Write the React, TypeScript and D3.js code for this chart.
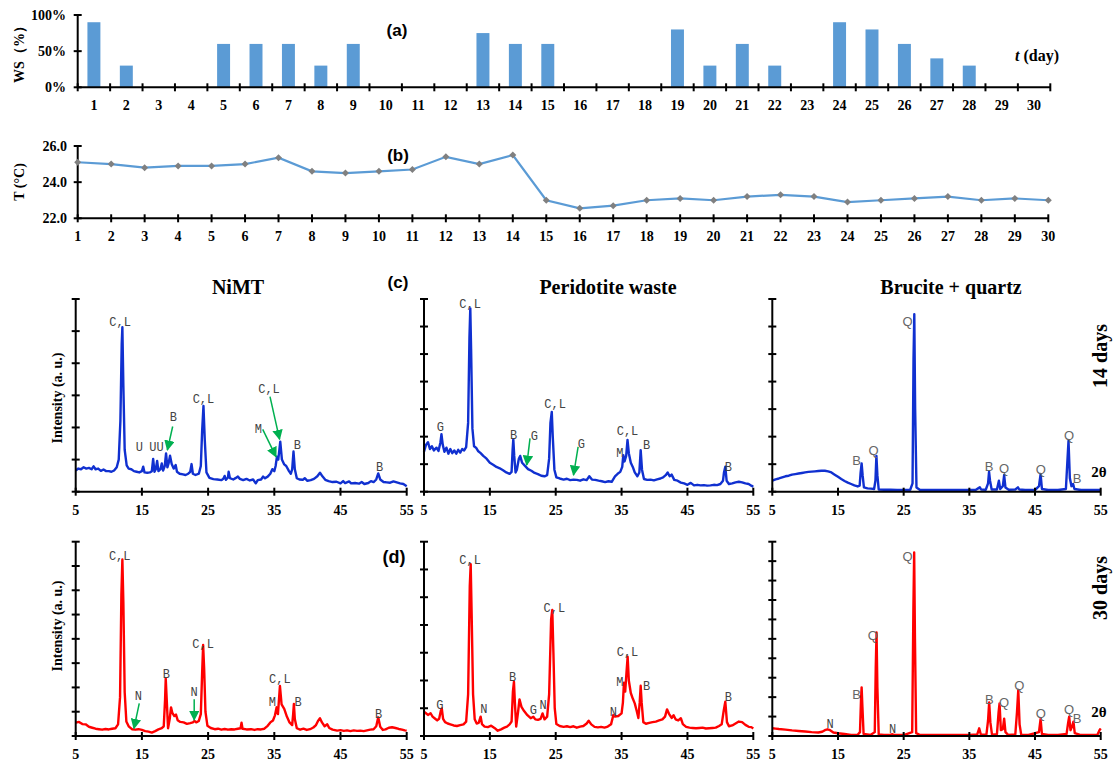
import React from 'react';
import * as d3 from 'd3';

// ---------- (a) water sprinkling and (b) temperature, per day ----------
const DAYS = [1, 2, 3, 4, 5, 6, 7, 8, 9, 10, 11, 12, 13, 14, 15, 16, 17, 18, 19, 20, 21, 22, 23, 24, 25, 26, 27, 28, 29, 30];
const WS_PERCENT = [90, 30, 0, 0, 60, 60, 60, 30, 60, 0, 0, 0, 75, 60, 60, 0, 0, 0, 80, 30, 60, 30, 0, 90, 80, 60, 40, 30, 0, 0];
const TEMP_C = [25.1, 25.0, 24.8, 24.9, 24.9, 25.0, 25.35, 24.6, 24.5, 24.6, 24.7, 25.4, 25.0, 25.5, 23.0, 22.55, 22.7, 23.0, 23.1, 23.0, 23.2, 23.3, 23.2, 22.9, 23.0, 23.1, 23.2, 23.0, 23.1, 23.0];
const WS_TICKS = [0, 0.5, 1];
const TEMP_TICKS = [22, 24, 26];

// ---------- XRD patterns: [2θ (deg), intensity (counts)] ----------
const TWO_THETA_TICKS = [5, 15, 25, 35, 45, 55];

const NIMT_14: [number, number][] = [
  [5.0, 660], [5.4, 720], [5.8, 700], [6.2, 760], [6.6, 720], [7.0, 740], [7.4, 700], [7.7, 790], [8.0, 700], [8.4, 720],
  [8.8, 650], [9.2, 690], [9.6, 640], [10.0, 640], [10.4, 620], [10.8, 660], [11.2, 760], [11.5, 1000], [11.75, 2200], [11.95, 4600],
  [12.05, 5120], [12.2, 3300], [12.4, 1300], [12.7, 820], [13.0, 720], [13.4, 700], [13.8, 640], [14.2, 620], [14.6, 600], [15.0, 640],
  [15.2, 780], [15.4, 600], [15.8, 590], [16.2, 600], [16.5, 640], [16.7, 1020], [16.9, 620], [17.1, 700], [17.3, 960], [17.5, 640],
  [17.8, 700], [18.0, 880], [18.2, 660], [18.45, 800], [18.65, 1190], [18.85, 760], [19.05, 900], [19.25, 1120], [19.5, 860], [19.8, 720],
  [20.1, 830], [20.3, 620], [20.7, 560], [21.2, 540], [21.6, 520], [22.0, 560], [22.3, 620], [22.5, 860], [22.7, 560], [23.1, 520],
  [23.6, 560], [23.9, 800], [24.1, 1900], [24.3, 2670], [24.5, 1600], [24.75, 600], [25.2, 430], [25.8, 390], [26.4, 380], [27.0, 360],
  [27.3, 400], [27.5, 490], [27.7, 370], [28.0, 440], [28.1, 620], [28.3, 420], [28.8, 380], [29.2, 430], [29.5, 470], [29.8, 400],
  [30.3, 360], [30.8, 400], [31.3, 350], [31.8, 380], [32.2, 260], [32.5, 360], [33.0, 380], [33.3, 470], [33.6, 420], [34.0, 470],
  [34.4, 560], [34.7, 700], [35.0, 640], [35.2, 800], [35.4, 1090], [35.6, 1000], [35.9, 1560], [36.15, 1000], [36.5, 850], [36.8, 800],
  [37.2, 650], [37.5, 560], [37.7, 700], [37.9, 1250], [38.1, 700], [38.4, 420], [38.8, 380], [39.3, 370], [39.6, 420], [40.0, 340],
  [40.5, 360], [41.0, 400], [41.5, 480], [41.9, 590], [42.3, 470], [42.7, 370], [43.2, 330], [43.8, 300], [44.4, 310], [45.0, 260],
  [45.4, 330], [45.7, 270], [46.3, 320], [46.6, 260], [47.2, 270], [47.8, 250], [48.2, 300], [48.6, 240], [49.2, 270], [49.6, 330],
  [50.0, 300], [50.4, 380], [50.7, 570], [51.0, 380], [51.5, 300], [52.0, 290], [52.5, 280], [53.0, 320], [53.5, 290], [54.0, 260],
  [54.5, 240], [55.0, 170],
];

const PERIDOTITE_14: [number, number][] = [
  [5.0, 1450], [5.3, 1700], [5.6, 1800], [5.9, 1550], [6.2, 1650], [6.5, 1500], [6.9, 1600], [7.2, 1480], [7.5, 1800], [7.65, 2090],
  [7.85, 1700], [8.1, 1450], [8.4, 1600], [8.7, 1380], [9.0, 1550], [9.3, 1400], [9.6, 1500], [9.9, 1380], [10.2, 1520], [10.5, 1420],
  [10.8, 1550], [11.1, 1500], [11.4, 1620], [11.7, 2500], [11.9, 5600], [12.03, 6660], [12.15, 5200], [12.35, 2300], [12.6, 1650], [12.9, 1600],
  [13.2, 1480], [13.6, 1400], [14.0, 1300], [14.5, 1200], [15.0, 1050], [15.5, 980], [16.0, 900], [16.5, 850], [17.0, 780], [17.5, 700],
  [18.0, 650], [18.3, 720], [18.45, 1500], [18.56, 1900], [18.7, 1300], [18.9, 700], [19.1, 800], [19.4, 1200], [19.6, 1300], [19.9, 1050],
  [20.3, 950], [20.8, 820], [21.3, 760], [21.8, 680], [22.3, 640], [22.8, 580], [23.3, 560], [23.7, 600], [24.0, 1200], [24.2, 2500],
  [24.4, 2900], [24.55, 2000], [24.8, 800], [25.1, 520], [25.6, 480], [26.2, 440], [26.7, 470], [27.2, 420], [27.7, 440], [28.2, 430],
  [28.7, 400], [29.2, 450], [29.7, 420], [30.1, 560], [30.5, 440], [31.0, 430], [31.5, 400], [32.0, 380], [32.5, 350], [33.0, 380],
  [33.5, 360], [34.0, 560], [34.4, 650], [34.8, 720], [35.1, 900], [35.26, 1330], [35.45, 1100], [35.7, 1300], [35.9, 1880], [36.1, 1400],
  [36.4, 1050], [36.7, 900], [37.0, 700], [37.4, 560], [37.7, 700], [37.9, 1510], [38.1, 800], [38.4, 460], [38.9, 430], [39.4, 440],
  [39.9, 410], [40.4, 450], [40.9, 480], [41.3, 520], [41.7, 600], [42.0, 700], [42.3, 560], [42.6, 620], [43.0, 430], [43.5, 400],
  [44.0, 330], [44.5, 300], [45.0, 250], [45.5, 320], [46.0, 230], [46.5, 250], [47.0, 230], [47.5, 240], [48.0, 220], [48.5, 230],
  [49.0, 250], [49.5, 240], [50.0, 280], [50.4, 400], [50.55, 700], [50.75, 910], [50.95, 400], [51.3, 280], [51.8, 300], [52.3, 340],
  [52.8, 360], [53.3, 340], [53.8, 300], [54.3, 280], [54.7, 220], [55.0, 180],
];

const BRUCITE_14: [number, number][] = [
  [5.0, 400], [5.5, 450], [6.0, 480], [6.5, 520], [7.0, 560], [7.5, 580], [8.0, 620], [8.5, 640], [9.0, 660], [9.5, 680],
  [10.0, 700], [10.5, 720], [11.0, 730], [11.5, 740], [12.0, 750], [12.5, 760], [13.0, 760], [13.5, 740], [14.0, 700], [14.5, 620],
  [15.0, 540], [15.5, 460], [16.0, 390], [16.5, 330], [17.0, 280], [17.5, 230], [18.0, 190], [18.3, 220], [18.45, 700], [18.6, 1030],
  [18.75, 600], [18.95, 160], [19.5, 120], [20.0, 110], [20.5, 100], [20.7, 400], [20.85, 1300], [21.0, 600], [21.2, 80], [22.0, 70],
  [23.0, 70], [24.0, 65], [25.0, 65], [26.0, 70], [26.35, 300], [26.5, 4800], [26.62, 6450], [26.75, 3000], [26.95, 150], [27.5, 60],
  [28.5, 60], [30.0, 60], [32.0, 60], [34.0, 60], [36.0, 70], [36.4, 130], [36.6, 160], [36.8, 80], [37.5, 70], [37.85, 300],
  [38.0, 725], [38.15, 400], [38.4, 80], [39.2, 80], [39.5, 400], [39.7, 100], [40.1, 200], [40.3, 605], [40.5, 150], [41.0, 70],
  [42.0, 80], [42.4, 160], [42.6, 80], [43.5, 60], [45.0, 60], [45.6, 200], [45.85, 640], [46.05, 100], [47.0, 60], [48.5, 60],
  [49.7, 100], [49.95, 1200], [50.1, 1850], [50.3, 500], [50.55, 200], [50.8, 280], [51.0, 100], [52.0, 60], [53.5, 60], [55.0, 60],
];

const NIMT_30: [number, number][] = [
  [5.0, 550], [5.5, 580], [6.0, 490], [6.5, 480], [7.0, 380], [7.5, 340], [8.0, 300], [8.5, 280], [9.0, 260], [9.5, 290],
  [10.0, 270], [10.5, 300], [11.0, 320], [11.4, 480], [11.7, 1600], [11.9, 5800], [12.05, 7270], [12.2, 5500], [12.4, 1800], [12.65, 600],
  [13.0, 400], [13.5, 280], [14.0, 260], [14.5, 280], [15.0, 250], [15.5, 200], [16.0, 180], [16.5, 140], [17.0, 200], [17.5, 270],
  [18.0, 320], [18.3, 400], [18.5, 1500], [18.6, 2370], [18.75, 1500], [18.95, 320], [19.2, 700], [19.4, 1180], [19.6, 950], [19.9, 820],
  [20.15, 880], [20.4, 650], [20.8, 580], [21.3, 560], [21.8, 500], [22.3, 530], [22.7, 560], [22.95, 620], [23.2, 560], [23.6, 620],
  [23.9, 900], [24.1, 2600], [24.25, 3745], [24.4, 2800], [24.6, 1000], [24.9, 420], [25.4, 330], [26.0, 280], [26.5, 300], [27.0, 260],
  [27.5, 290], [28.0, 260], [28.5, 280], [29.0, 270], [29.5, 300], [29.9, 320], [30.05, 550], [30.2, 300], [30.8, 270], [31.5, 280],
  [32.0, 250], [32.5, 280], [33.0, 270], [33.5, 300], [34.0, 420], [34.4, 560], [34.8, 640], [35.1, 850], [35.35, 1180], [35.55, 900],
  [35.85, 2060], [36.1, 1300], [36.5, 1120], [36.9, 800], [37.3, 560], [37.7, 450], [37.85, 900], [37.96, 1320], [38.1, 700], [38.4, 320],
  [38.9, 260], [39.4, 300], [39.9, 250], [40.4, 280], [40.9, 350], [41.3, 450], [41.6, 620], [41.9, 730], [42.2, 560], [42.6, 400],
  [43.0, 480], [43.3, 330], [43.8, 260], [44.5, 220], [45.0, 240], [45.5, 210], [46.0, 230], [46.5, 200], [47.0, 230], [47.5, 210],
  [48.0, 220], [48.5, 200], [49.0, 230], [49.5, 260], [50.0, 280], [50.4, 400], [50.7, 770], [51.0, 380], [51.4, 250], [51.8, 270],
  [52.3, 340], [52.8, 360], [53.3, 330], [53.8, 290], [54.3, 260], [54.7, 230], [55.0, 220],
];

const PERIDOTITE_30: [number, number][] = [
  [5.0, 870], [5.3, 820], [5.6, 760], [6.0, 820], [6.3, 700], [6.7, 620], [7.0, 560], [7.3, 620], [7.55, 900], [7.7, 995],
  [7.9, 620], [8.2, 500], [8.6, 450], [9.0, 420], [9.5, 380], [10.0, 360], [10.5, 390], [11.0, 420], [11.4, 520], [11.7, 1500],
  [11.95, 5400], [12.09, 6190], [12.25, 4200], [12.45, 1500], [12.7, 600], [13.0, 450], [13.3, 470], [13.6, 695], [13.8, 430], [14.2, 340],
  [14.7, 320], [15.2, 370], [15.7, 290], [16.2, 190], [16.7, 240], [17.2, 300], [17.6, 340], [18.0, 420], [18.3, 520], [18.5, 1600],
  [18.66, 1955], [18.8, 1200], [19.0, 340], [19.3, 900], [19.5, 1320], [19.8, 1050], [20.2, 900], [20.7, 750], [21.2, 640], [21.6, 695],
  [21.9, 600], [22.3, 580], [22.7, 620], [23.0, 815], [23.3, 600], [23.7, 700], [24.0, 1500], [24.3, 4200], [24.48, 4540], [24.65, 3000],
  [24.85, 1000], [25.1, 430], [25.6, 360], [26.2, 330], [26.7, 350], [27.2, 320], [27.7, 350], [28.2, 300], [28.7, 340], [29.2, 360],
  [29.7, 450], [30.0, 550], [30.4, 420], [30.9, 330], [31.4, 310], [31.9, 330], [32.4, 300], [32.9, 340], [33.4, 420], [33.75, 755],
  [34.0, 700], [34.5, 720], [35.0, 815], [35.2, 1200], [35.36, 1920], [35.55, 1600], [35.75, 2300], [35.92, 2855], [36.1, 2000], [36.4, 1550],
  [36.7, 1350], [37.0, 1175], [37.3, 900], [37.55, 650], [37.75, 1200], [37.9, 1810], [38.05, 1200], [38.3, 500], [38.7, 440], [39.2, 470],
  [39.7, 500], [40.2, 520], [40.7, 560], [41.2, 600], [41.6, 700], [41.9, 960], [42.2, 800], [42.6, 650], [42.9, 750], [43.2, 600],
  [43.6, 560], [44.0, 640], [44.3, 430], [44.8, 330], [45.3, 300], [45.8, 290], [46.3, 280], [46.8, 290], [47.3, 300], [47.8, 270],
  [48.3, 280], [48.8, 290], [49.3, 300], [49.8, 360], [50.2, 420], [50.5, 900], [50.75, 1235], [51.0, 500], [51.3, 350], [51.8, 380],
  [52.3, 450], [52.8, 520], [53.3, 500], [53.8, 400], [54.3, 330], [54.7, 320], [55.0, 270],
];

const BRUCITE_30: [number, number][] = [
  [5.0, 400], [5.5, 380], [6.0, 360], [7.0, 330], [8.0, 290], [9.0, 260], [10.0, 230], [11.0, 200], [12.0, 180], [12.6, 220],
  [13.0, 300], [13.4, 345], [13.8, 300], [14.3, 180], [15.0, 140], [16.0, 100], [17.0, 60], [18.0, 60], [18.35, 200], [18.5, 1800],
  [18.6, 2505], [18.72, 1500], [18.9, 100], [20.0, 60], [20.6, 200], [20.75, 3500], [20.87, 5335], [21.0, 2500], [21.2, 80], [22.0, 50],
  [23.0, 70], [23.3, 90], [23.6, 50], [25.0, 50], [26.3, 200], [26.48, 6500], [26.6, 9450], [26.72, 5000], [26.9, 150], [27.5, 50],
  [29.0, 50], [31.0, 50], [33.0, 50], [35.0, 50], [36.2, 80], [36.5, 395], [36.75, 80], [37.6, 70], [37.85, 800], [38.02, 1730],
  [38.2, 700], [38.45, 70], [39.2, 90], [39.45, 1200], [39.6, 1680], [39.8, 300], [40.1, 350], [40.3, 890], [40.5, 200], [40.9, 60],
  [42.0, 80], [42.25, 1200], [42.45, 2365], [42.65, 600], [42.9, 60], [44.0, 50], [45.6, 200], [45.85, 875], [46.05, 100], [47.0, 50],
  [48.5, 50], [49.8, 100], [50.05, 700], [50.2, 995], [50.4, 300], [50.65, 500], [50.85, 740], [51.05, 150], [52.0, 50], [53.5, 50],
  [54.5, 60], [54.75, 250], [54.9, 345], [55.0, 300],
];

// Phase labels [text, 2θ, intensity] and arrows [from 2θ, from I, to 2θ, to I]
type Label = [string, number, number];
type Arrow = [number, number, number, number];

const LABELS_NIMT_14: Label[] = [
  ['C,L', 11.7, 5290], ['U', 14.6, 1400], ['UU', 17.2, 1400], ['B', 19.75, 2340], ['C,L', 24.3, 2880],
  ['M', 32.6, 1970], ['C,L', 34.2, 3190], ['B', 38.5, 1475], ['B', 50.9, 780],
];
const ARROWS_NIMT_14: Arrow[] = [
  [19.65, 2030, 18.85, 1300], [34.35, 2960, 35.8, 1630], [33.25, 1940, 35.26, 1090],
];
const LABELS_PERIDOTITE_14: Label[] = [
  ['G', 7.5, 2360], ['C,L', 12.0, 6815], ['B', 18.6, 2080], ['G', 21.75, 2030], ['C,L', 24.9, 3185],
  ['G', 28.9, 1730], ['M', 34.75, 1415], ['C,L', 35.9, 2215], ['B', 38.8, 1720], ['B', 51.2, 910],
];
const ARROWS_PERIDOTITE_14: Arrow[] = [
  [21.1, 1940, 20.6, 970], [28.4, 1630, 27.7, 605],
];
const LABELS_BRUCITE_14: Label[] = [
  ['B', 17.85, 1125], ['Q', 20.4, 1510], ['Q', 25.6, 6170], ['B', 38.0, 930], ['Q', 40.3, 850],
  ['Q', 45.9, 825], ['Q', 50.2, 2060], ['B', 51.4, 485],
];
const LABELS_NIMT_30: Label[] = [
  ['C,L', 11.65, 7410], ['N', 14.45, 1650], ['B', 18.7, 2550], ['N', 22.9, 1825], ['C,L', 24.25, 3790],
  ['M', 34.7, 1410], ['C,L', 35.85, 2375], ['B', 38.6, 1410], ['B', 50.75, 930],
];
const ARROWS_NIMT_30: Arrow[] = [
  [14.6, 1345, 13.8, 315], [22.9, 1510, 22.9, 660],
];
const LABELS_PERIDOTITE_30: Label[] = [
  ['G', 7.4, 1115], ['C,L', 12.0, 6360], ['N', 14.1, 995], ['B', 18.45, 2135], ['G', 21.6, 935],
  ['N', 23.1, 1115], ['C,L', 24.8, 4635], ['N', 33.75, 875], ['M', 34.75, 1955], ['C,L', 35.9, 3035],
  ['B', 38.8, 1810], ['B', 51.2, 1415],
];
const LABELS_BRUCITE_30: Label[] = [
  ['N', 13.8, 650], ['B', 17.85, 2145], ['Q', 20.3, 5200], ['N', 23.3, 345], ['Q', 25.6, 9245],
  ['B', 38.05, 1885], ['Q', 40.3, 1715], ['Q', 42.6, 2625], ['Q', 45.9, 1165], ['Q', 50.2, 1370], ['B', 51.4, 910],
];

const SERIF = '"Liberation Serif", "Times New Roman", serif';
const SANS = '"Liberation Sans", Arial, sans-serif';
const MONO = '"Liberation Mono", "Courier New", monospace';
const BAR_BLUE = '#5B9BD5';
const ARROW_GREEN = '#00B050';

interface XrdProps {
  data: [number, number][];
  labels: Label[];
  arrows: Arrow[];
  yMax: number;
  left: number;
  right: number;
  base: number;
  top: number;
  color: string;
  sansPeaks: boolean;
}

function XrdPanel({ data, labels, arrows, yMax, left, right, base, top, color, sansPeaks }: XrdProps) {
  const x = d3.scaleLinear().domain([5, 55]).range([left, right]);
  const y = d3.scaleLinear().domain([0, yMax]).range([base, top]);
  const line = d3.line<[number, number]>().x((d) => x(d[0])).y((d) => y(d[1]));
  const yTicks = d3.range(0, yMax + 1, 1000);
  return (
    <g>
      <path d={line(data) || ''} fill="none" stroke={color} strokeWidth={2.4} strokeLinejoin="round" />
      <line x1={left} x2={right} y1={base} y2={base} stroke="#000" strokeWidth={2} />
      <line x1={left} x2={left} y1={base} y2={top} stroke="#000" strokeWidth={2} />
      {yTicks.map((t) => (
        <line key={'y' + t} x1={left - 4} x2={left + 4} y1={y(t)} y2={y(t)} stroke="#000" strokeWidth={2} />
      ))}
      {TWO_THETA_TICKS.map((t) => (
        <g key={'x' + t}>
          <line x1={x(t)} x2={x(t)} y1={base - 4} y2={base + 4} stroke="#000" strokeWidth={2} />
          <text x={x(t)} y={base + 23} textAnchor="middle" fontFamily={SERIF} fontWeight="bold" fontSize={14}>{t}</text>
        </g>
      ))}
      {arrows.map((a, i) => (
        <line key={'a' + i} x1={x(a[0])} y1={y(a[1])} x2={x(a[2])} y2={y(a[3])}
          stroke={ARROW_GREEN} strokeWidth={1.5} markerEnd="url(#greenHead)" />
      ))}
      {labels.map((l, i) => {
        const sans = sansPeaks && (l[0] === 'Q' || l[0] === 'B');
        return (
          <text key={'l' + i} x={x(l[1])} y={y(l[2])} dy="0.35em" textAnchor="middle"
            fontFamily={sans ? SANS : MONO} fontSize={sans ? 13 : 12} fill={sans ? '#666' : '#444'}>
            {l[0]}
          </text>
        );
      })}
    </g>
  );
}

export default function App() {
  // (a) water sprinkling bars
  const aLeft = 77.7, aRight = 1050.3, aBase = 87.3, aTop = 15;
  const xBand = d3.scaleBand<number>().domain(DAYS).range([aLeft, aRight]).paddingInner(0.6).paddingOuter(0.3);
  const yWs = d3.scaleLinear().domain([0, 1]).range([aBase, aTop]);
  const step = (aRight - aLeft) / DAYS.length;

  // (b) temperature line
  const bBase = 218.3, bTop = 146;
  const xPt = d3.scalePoint<number>().domain(DAYS).range([77.7, 1048.3]);
  const yT = d3.scaleLinear().domain([22, 26]).range([bBase, bTop]);
  const tempLine = d3.line<number>().x((_, i) => xPt(DAYS[i]) as number).y((d) => yT(d));

  const cols = [
    { left: 75.7, right: 406.7 },
    { left: 424, right: 753.3 },
    { left: 772.3, right: 1100.7 },
  ];
  const rowC = { base: 491.7, top: 299 };
  const rowD = { base: 736, top: 541.7 };
  const BLUE = '#1030D0';
  const RED = '#FF0000';

  return (
    <svg width={1113} height={763} style={{ position: 'absolute', left: 0, top: 0, background: '#fff' }}>
      <defs>
        <marker id="greenHead" viewBox="0 0 10 10" refX="9" refY="5" markerWidth="7" markerHeight="7" orient="auto">
          <path d="M0,0 L10,5 L0,10 Z" fill={ARROW_GREEN} />
        </marker>
      </defs>
      <rect x={0} y={0} width={1113} height={763} fill="#fff" />

      {/* ---- (a) ---- */}
      {DAYS.map((d, i) => (
        WS_PERCENT[i] > 0 ? (
          <rect key={'bar' + d} x={xBand(d)} y={yWs(WS_PERCENT[i] / 100)} width={xBand.bandwidth()}
            height={aBase - yWs(WS_PERCENT[i] / 100)} fill={BAR_BLUE} />
        ) : null
      ))}
      <line x1={aLeft} x2={aRight} y1={aBase} y2={aBase} stroke="#000" strokeWidth={2} />
      <line x1={aLeft} x2={aLeft} y1={aBase} y2={aTop} stroke="#000" strokeWidth={2} />
      {WS_TICKS.map((t) => (
        <g key={'wt' + t}>
          <line x1={aLeft - 4} x2={aLeft + 4} y1={yWs(t)} y2={yWs(t)} stroke="#000" strokeWidth={2} />
          <text x={66} y={yWs(t)} dy="0.35em" textAnchor="end" fontFamily={SERIF} fontWeight="bold" fontSize={14}>
            {`${Math.round(t * 100)}%`}
          </text>
        </g>
      ))}
      {d3.range(DAYS.length + 1).map((k) => (
        <line key={'bt' + k} x1={aLeft + k * step} x2={aLeft + k * step} y1={aBase - 4} y2={aBase + 4} stroke="#000" strokeWidth={2} />
      ))}
      {DAYS.map((d) => (
        <text key={'bl' + d} x={(xBand(d) as number) + xBand.bandwidth() / 2} y={110} textAnchor="middle"
          fontFamily={SERIF} fontWeight="bold" fontSize={14}>{d}</text>
      ))}
      <text transform="translate(24,51) rotate(-90)" textAnchor="middle" fontFamily={SERIF} fontWeight="bold" fontSize={14}>WS（%）</text>
      <text x={1059} y={61} textAnchor="end" fontFamily={SERIF} fontWeight="bold" fontSize={16}>
        <tspan fontStyle="italic">t</tspan> (day)
      </text>
      <text x={397} y={36} textAnchor="middle" fontFamily={SANS} fontWeight="bold" fontSize={17}>(a)</text>

      {/* ---- (b) ---- */}
      <line x1={77.7} x2={1048.3} y1={bBase} y2={bBase} stroke="#000" strokeWidth={2} />
      <line x1={77.7} x2={77.7} y1={bBase} y2={bTop} stroke="#000" strokeWidth={2} />
      {TEMP_TICKS.map((t) => (
        <g key={'tt' + t}>
          <line x1={73.7} x2={81.7} y1={yT(t)} y2={yT(t)} stroke="#000" strokeWidth={2} />
          <text x={67} y={yT(t)} dy="0.35em" textAnchor="end" fontFamily={SERIF} fontWeight="bold" fontSize={14}>{t.toFixed(1)}</text>
        </g>
      ))}
      {DAYS.map((d) => (
        <g key={'pt' + d}>
          <line x1={xPt(d)} x2={xPt(d)} y1={bBase - 4} y2={bBase + 4} stroke="#000" strokeWidth={2} />
          <text x={xPt(d)} y={241} textAnchor="middle" fontFamily={SERIF} fontWeight="bold" fontSize={14}>{d}</text>
        </g>
      ))}
      <path d={tempLine(TEMP_C) || ''} fill="none" stroke={BAR_BLUE} strokeWidth={2.2} />
      {TEMP_C.map((v, i) => (
        <path key={'dm' + i} transform={`translate(${xPt(DAYS[i])},${yT(v)})`} d="M0,-3.5L3.5,0L0,3.5L-3.5,0Z" fill="#808080" />
      ))}
      <text transform="translate(24,182) rotate(-90)" textAnchor="middle" fontFamily={SERIF} fontWeight="bold" fontSize={14}>T (°C)</text>
      <text x={398} y={161} textAnchor="middle" fontFamily={SANS} fontWeight="bold" fontSize={17}>(b)</text>

      {/* ---- (c) 14 days ---- */}
      <text x={238} y={294} textAnchor="middle" fontFamily={SERIF} fontWeight="bold" fontSize={20}>NiMT</text>
      <text x={608} y={294} textAnchor="middle" fontFamily={SERIF} fontWeight="bold" fontSize={20}>Peridotite waste</text>
      <text x={951} y={294} textAnchor="middle" fontFamily={SERIF} fontWeight="bold" fontSize={20}>Brucite + quartz</text>
      <text x={398} y={288} textAnchor="middle" fontFamily={SANS} fontWeight="bold" fontSize={17}>(c)</text>
      <XrdPanel data={NIMT_14} labels={LABELS_NIMT_14} arrows={ARROWS_NIMT_14} yMax={6000}
        left={cols[0].left} right={cols[0].right} base={rowC.base} top={rowC.top} color={BLUE} sansPeaks={false} />
      <XrdPanel data={PERIDOTITE_14} labels={LABELS_PERIDOTITE_14} arrows={ARROWS_PERIDOTITE_14} yMax={7000}
        left={cols[1].left} right={cols[1].right} base={rowC.base} top={rowC.top} color={BLUE} sansPeaks={false} />
      <XrdPanel data={BRUCITE_14} labels={LABELS_BRUCITE_14} arrows={[]} yMax={7000}
        left={cols[2].left} right={cols[2].right} base={rowC.base} top={rowC.top} color={BLUE} sansPeaks={true} />
      <text transform="translate(62,398) rotate(-90)" textAnchor="middle" fontFamily={SERIF} fontWeight="bold" fontSize={14}>Intensity (a. u.)</text>
      <text transform="translate(1107,356) rotate(-90)" textAnchor="middle" fontFamily={SERIF} fontWeight="bold" fontSize={20}>14 days</text>
      <text x={1099} y={477} textAnchor="middle" fontFamily={SERIF} fontWeight="bold" fontSize={15}>2θ</text>

      {/* ---- (d) 30 days ---- */}
      <text x={394} y={563} textAnchor="middle" fontFamily={SANS} fontWeight="bold" fontSize={18}>(d)</text>
      <XrdPanel data={NIMT_30} labels={LABELS_NIMT_30} arrows={ARROWS_NIMT_30} yMax={8000}
        left={cols[0].left} right={cols[0].right} base={rowD.base} top={rowD.top} color={RED} sansPeaks={false} />
      <XrdPanel data={PERIDOTITE_30} labels={LABELS_PERIDOTITE_30} arrows={[]} yMax={7000}
        left={cols[1].left} right={cols[1].right} base={rowD.base} top={rowD.top} color={RED} sansPeaks={false} />
      <XrdPanel data={BRUCITE_30} labels={LABELS_BRUCITE_30} arrows={[]} yMax={10000}
        left={cols[2].left} right={cols[2].right} base={rowD.base} top={rowD.top} color={RED} sansPeaks={true} />
      <text transform="translate(62,626) rotate(-90)" textAnchor="middle" fontFamily={SERIF} fontWeight="bold" fontSize={14}>Intensity (a. u.)</text>
      <text transform="translate(1107,588) rotate(-90)" textAnchor="middle" fontFamily={SERIF} fontWeight="bold" fontSize={20}>30 days</text>
      <text x={1099} y={717} textAnchor="middle" fontFamily={SERIF} fontWeight="bold" fontSize={15}>2θ</text>
    </svg>
  );
}
